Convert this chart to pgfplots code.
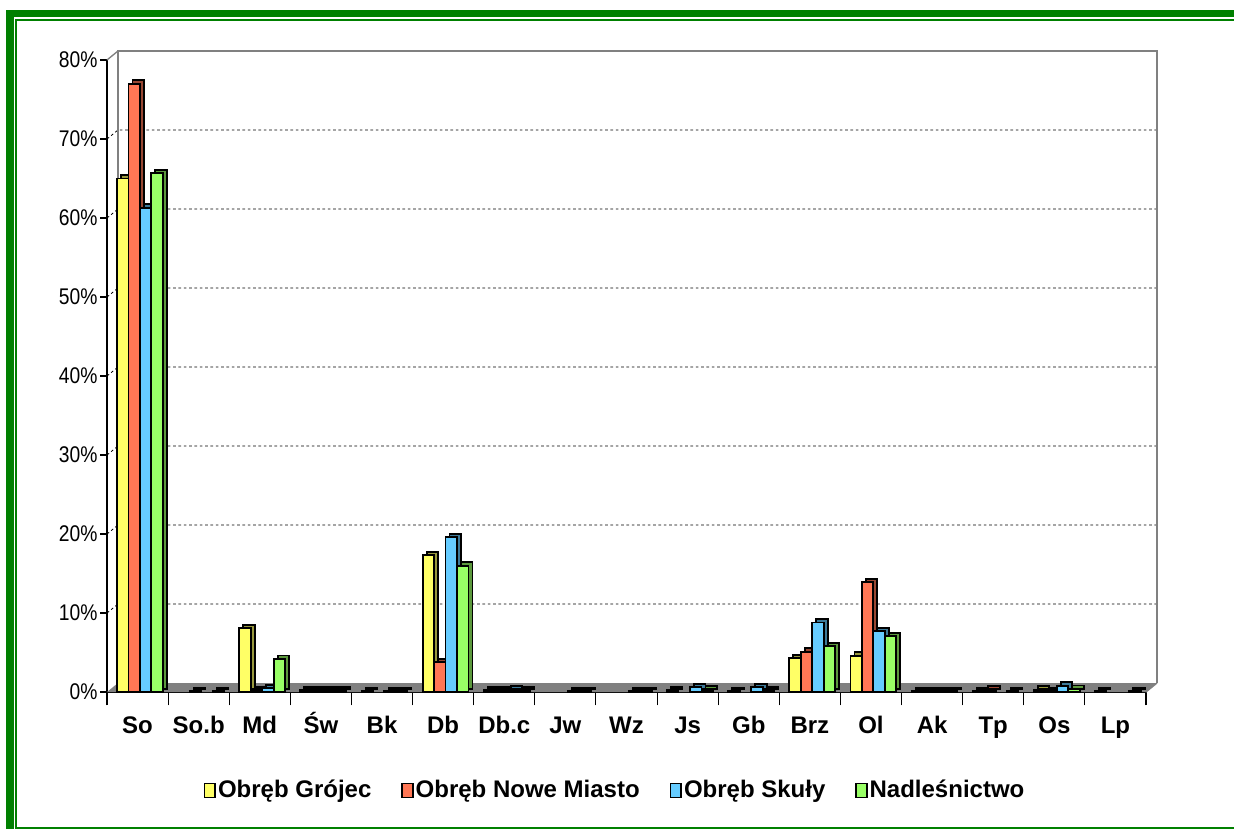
\documentclass[border=0pt]{standalone}
\usepackage{pgfplots}
\pgfplotsset{compat=1.18}
\usepackage{pgfplotstable}
\usepackage{fontspec}
\setmainfont{Liberation Sans}
\newfontfamily\narrow[FakeStretch=0.85]{Liberation Sans}

\definecolor{cY}{HTML}{FFFF66}
\definecolor{cR}{HTML}{FF7755}
\definecolor{cB}{HTML}{66CCFF}
\definecolor{cG}{HTML}{99FF66}
\definecolor{sY}{HTML}{99993D}
\definecolor{sR}{HTML}{994733}
\definecolor{sB}{HTML}{3D7A99}
\definecolor{sG}{HTML}{5C993D}
\definecolor{frame}{HTML}{008000}

% share of species, per cent
\pgfplotstableread{
x y
0 65
2 8.1
3 0.2
4 0.1
5 17.3
6 0.2
9 0.2
10 0.1
11 4.3
12 4.6
13 0.1
14 0.1
15 0.3
16 0.1
}\grojec
\pgfplotstableread{
x y
0 77
1 0.1
2 0.2
3 0.2
5 3.8
6 0.2
11 5.1
12 13.9
13 0.1
14 0.3
15 0.1
}\nowemiasto
\pgfplotstableread{
x y
0 61.3
2 0.5
3 0.2
4 0.1
5 19.6
6 0.3
7 0.1
8 0.1
9 0.6
10 0.6
11 8.8
12 7.7
13 0.1
15 0.8
}\skuly
\pgfplotstableread{
x y
0 65.7
1 0.1
2 4.2
3 0.2
4 0.1
5 16.0
6 0.2
7 0.1
8 0.1
9 0.3
10 0.2
11 5.8
12 7.1
13 0.1
14 0.1
15 0.4
16 0.1
}\nadl

\begin{document}
\begin{tikzpicture}
\begin{scope}[x=0.75pt,y=0.75pt]
\useasboundingbox (0,0) rectangle (1234,829);
\fill[white] (0,0) rectangle (1234,829);
\fill[frame] (6,0) rectangle (14,819);
\fill[frame] (6,812) rectangle (1234,819);
\fill[frame] (15,0) rectangle (17,810);
\fill[frame] (15,808) rectangle (1234,810);
\fill[frame] (15,0) rectangle (1234,2);
\end{scope}
\begin{axis}[
    at={(80.25pt,102.75pt)}, anchor=south west,
    width=779.25pt, height=474pt, scale only axis,
    xmin=-0.5, xmax=16.5, ymin=0, ymax=80,
    clip=false,
    axis lines*=left,
    axis line style={black, line width=0.8pt},
    tick align=outside,
    major tick length=10pt,
    tick style={black, line width=0.8pt},
    xtick={-0.5,0.5,...,16.5},
    xticklabels={},
    extra x ticks={0,1,...,16},
    extra x tick labels={So,So.b,Md,Św,Bk,Db,Db.c,Jw,Wz,Js,Gb,Brz,Ol,Ak,Tp,Os,Lp},
    extra x tick style={major tick length=0pt,
        tick label style={font=\fontsize{18}{18}\selectfont\bfseries, anchor=base, inner sep=0pt, yshift=-31pt}},
    ytick=\empty,
    extra y ticks={0,10,...,80},
    extra y tick style={major tick length=5pt},
    /pgf/number format/assume math mode=true,
    yticklabel={\pgfmathprintnumber{\tick}\%},
    yticklabel style={font=\fontsize{17}{17}\narrow, inner sep=2pt},
    legend columns=4,
    legend style={at={(0.489,0)}, anchor=center, yshift=-73.5pt, draw=none,
        font=\fontsize{18}{18}\selectfont\bfseries,
        nodes={inner sep=1.5pt},
        /tikz/every even column/.append style={column sep=21pt}},
    legend image code/.code={\draw[#1, draw=black, line width=1.2pt] (0pt,-5.5pt) rectangle (8pt,5pt);},
]
% floor and back wall
\fill[gray] (rel axis cs:0,0) -- (rel axis cs:1,0) -- ([shift={(8.25pt,6.75pt)}]rel axis cs:1,0) -- ([shift={(8.25pt,6.75pt)}]rel axis cs:0,0) -- cycle;
\pgfplotsinvokeforeach{10,20,30,40,50,60,70}{
  \draw[black, line width=0.6pt, dash pattern=on 2pt off 2pt] (axis cs:-0.5,#1) -- ([shift={(8.25pt,6.75pt)}]axis cs:-0.5,#1) -- ([shift={(8.25pt,6.75pt)}]axis cs:16.5,#1);
}
\draw[gray, line width=2pt] ([shift={(8.25pt,6.75pt)}]rel axis cs:0,0) -- ([shift={(8.25pt,6.75pt)}]rel axis cs:0,1) -- ([shift={(8.25pt,6.75pt)}]rel axis cs:1,1) -- ([shift={(8.25pt,6.75pt)}]rel axis cs:1,0);
\draw[gray, line width=1pt] (rel axis cs:0,1) -- ([shift={(8.25pt,6.75pt)}]rel axis cs:0,1);
\draw[gray, line width=1pt] (rel axis cs:1,0) -- ([shift={(8.25pt,6.75pt)}]rel axis cs:1,0);

% bars: a darker copy behind gives the depth
\addplot[ybar, bar width=8.6pt, bar shift=-11.1pt, fill=sY, draw=black, line width=1.4pt, xshift=3pt, yshift=2.5pt, forget plot] table {\grojec};
\addplot[ybar, bar width=8.6pt, bar shift=-11.1pt, fill=cY, draw=black, line width=1.4pt] table {\grojec};
\addplot[ybar, bar width=8.6pt, bar shift=-2.5pt, fill=sR, draw=black, line width=1.4pt, xshift=3pt, yshift=2.5pt, forget plot] table {\nowemiasto};
\addplot[ybar, bar width=8.6pt, bar shift=-2.5pt, fill=cR, draw=black, line width=1.4pt] table {\nowemiasto};
\addplot[ybar, bar width=8.6pt, bar shift=6.1pt, fill=sB, draw=black, line width=1.4pt, xshift=3pt, yshift=2.5pt, forget plot] table {\skuly};
\addplot[ybar, bar width=8.6pt, bar shift=6.1pt, fill=cB, draw=black, line width=1.4pt] table {\skuly};
\addplot[ybar, bar width=8.6pt, bar shift=14.7pt, fill=sG, draw=black, line width=1.4pt, xshift=3pt, yshift=2.5pt, forget plot] table {\nadl};
\addplot[ybar, bar width=8.6pt, bar shift=14.7pt, fill=cG, draw=black, line width=1.4pt] table {\nadl};
\legend{Obręb Grójec, Obręb Nowe Miasto, Obręb Skuły, Nadleśnictwo}
\end{axis}
\end{tikzpicture}
\end{document}
